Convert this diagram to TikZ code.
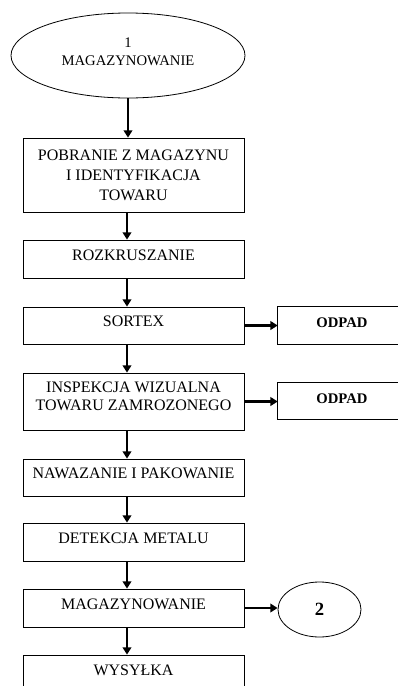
\documentclass[tikz,border=0pt]{standalone}
\usepackage{fontspec}
\setmainfont{Liberation Serif}
\usetikzlibrary{arrows.meta,shapes.geometric}

\begin{document}
\begin{tikzpicture}[x=0.75pt, y=-0.75pt,
    plainbox/.style={draw, line width=0.6pt, minimum width=165.75pt, minimum height=28.5pt, inner sep=0pt, align=center},
    box/.style={plainbox, text height=8pt, text depth=6.5pt, font=\fontsize{12}{14.5}\selectfont},
    odpbox/.style={minimum width=96pt, minimum height=27.75pt, inner sep=0pt, text height=8pt, text depth=5pt, font=\fontsize{11}{13}\selectfont\bfseries},
    oval/.style={draw, ellipse, line width=0.6pt, inner sep=0pt, align=center},
    arr/.style={line width=1.8pt, -{Triangle[length=5.5pt,width=6.5pt]}}]
    \useasboundingbox (0,0) rectangle (398,686);
    \coordinate (ax) at (127,0);
    \coordinate (edge) at (398,0);
    \node[oval, minimum width=175.5pt, minimum height=63.75pt, text height=20pt, text depth=4.3pt, font=\fontsize{11}{13.5}\selectfont] (mag1) at (128,55.5) {1\\MAGAZYNOWANIE};
    \node[plainbox, minimum height=55.5pt, font=\fontsize{12}{15}\selectfont] (pobr) at (133.5,175) {POBRANIE Z MAGAZYNU\\I IDENTYFIKACJA\\TOWARU};
    \node[box] (rozk) at (133.5,259) {ROZKRUSZANIE};
    \node[box, minimum height=27.75pt] (sort) at (133.5,325.5) {SORTEX};
    \node[plainbox, minimum height=42.75pt, text height=20pt, text depth=7pt, font=\fontsize{12}{13.5}\selectfont] (insp) at (133.5,401.5) {INSPEKCJA WIZUALNA\\TOWARU ZAMROZONEGO};
    \node[box, minimum height=27.75pt] (nawa) at (133.5,477.5) {NAWAZANIE I PAKOWANIE};
    \node[box] (detk) at (133.5,542) {DETEKCJA METALU};
    \node[box] (mag) at (133.5,608) {MAGAZYNOWANIE};
    \node[box] (wys) at (133.5,674) {WYSYŁKA};
    \node[odpbox] (odp1) at (342,325.5) {ODPAD};
    \node[odpbox, minimum height=27pt] (odp2) at (342,401) {ODPAD};
    \node[oval, minimum width=62.25pt, minimum height=41.25pt, font=\fontsize{14}{16}\selectfont\bfseries] (mag2) at (319.5,609.5) {2};
    % ODPAD boxes run past the right edge
    \draw[line width=0.6pt] (odp1.north -| edge) -- (odp1.north west) -- (odp1.south west) -- (odp1.south -| edge);
    \draw[line width=0.6pt] (odp2.north -| edge) -- (odp2.north west) -- (odp2.south west) -- (odp2.south -| edge);
    \draw[arr] (mag1.south) -- (mag1.south |- pobr.north);
    \draw[arr] (pobr.south -| ax) -- (rozk.north -| ax);
    \draw[arr] (rozk.south -| ax) -- (sort.north -| ax);
    \draw[arr] (sort.south -| ax) -- (insp.north -| ax);
    \draw[arr] (insp.south -| ax) -- (nawa.north -| ax);
    \draw[arr] (nawa.south -| ax) -- (detk.north -| ax);
    \draw[arr] (detk.south -| ax) -- (mag.north -| ax);
    \draw[arr] (mag.south -| ax) -- (wys.north -| ax);
    \draw[arr] (sort.east) -- (odp1.west);
    \draw[arr] (insp.east) -- (insp.east -| odp2.west);
    \draw[arr] (mag.east) -- (mag.east -| mag2.west);
\end{tikzpicture}
\end{document}
